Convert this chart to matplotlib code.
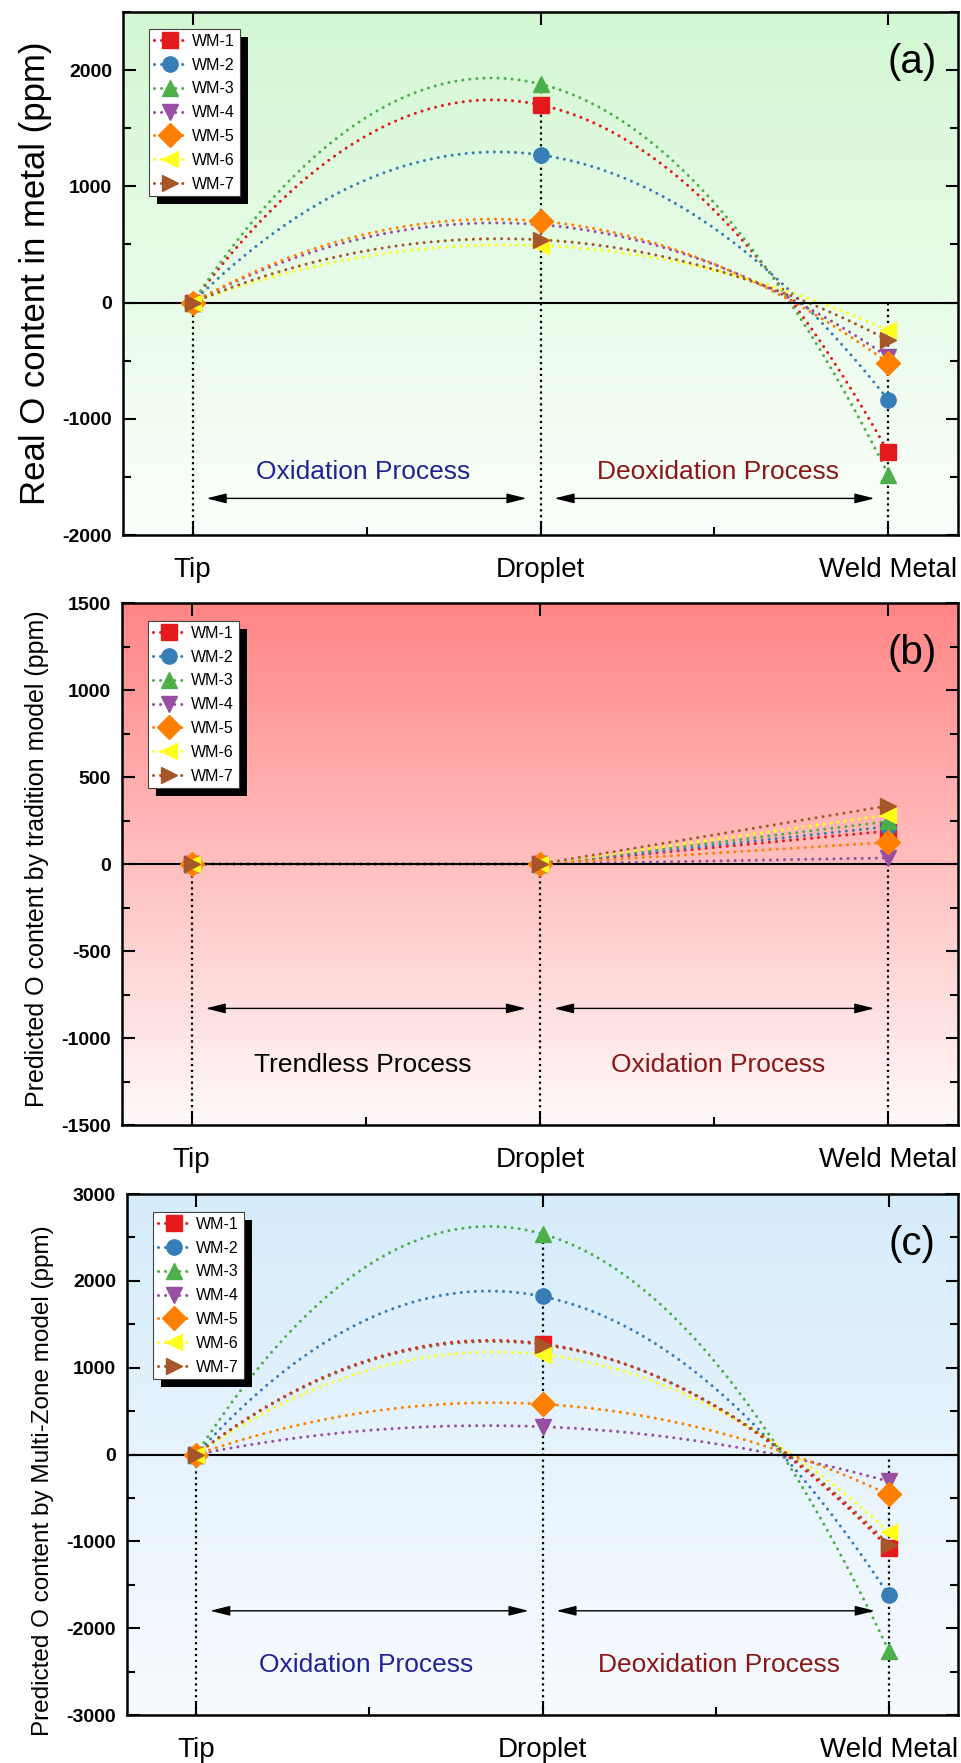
import numpy as np
import matplotlib.pyplot as plt
from matplotlib.colors import LinearSegmentedColormap
from matplotlib.lines import Line2D
from matplotlib.patches import Rectangle
from matplotlib.transforms import IdentityTransform

plt.rcParams['font.family'] = ['Liberation Sans', 'DejaVu Sans']
plt.rcParams['axes.unicode_minus'] = False      # gewoon streepje bij negatieve getallen

# categorieen en series
stages = ['Tip', 'Droplet', 'Weld Metal']
series = ['WM-1', 'WM-2', 'WM-3', 'WM-4', 'WM-5', 'WM-6', 'WM-7']
colors = ['#e41a1c', '#377eb8', '#4daf4a', '#984ea3', '#ff7f00', '#ffff1a', '#a65628']
markers = ['s', 'o', '^', 'v', 'D', '<', '>']

# (a) gemeten O gehalte (ppm)
real_tip = [0, 0, 0, 0, 0, 0, 0]
real_droplet = [1700, 1270, 1880, 670, 700, 490, 540]
real_weld = [-1290, -840, -1480, -470, -520, -240, -325]

# (b) traditioneel model
trad_tip = [0, 0, 0, 0, 0, 0, 0]
trad_droplet = [0, 0, 0, 0, 0, 0, 0]
trad_weld = [190, 215, 245, 35, 125, 282, 335]

# (c) multi-zone model
mz_tip = [0, 0, 0, 0, 0, 0, 0]
mz_droplet = [1275, 1820, 2540, 320, 580, 1150, 1265]
mz_weld = [-1080, -1620, -2260, -310, -460, -890, -1040]

xs = np.arange(len(stages))
blue_txt = '#1f2396'
red_txt = '#8b1616'
dots = (0, (0.01, 2.3))       # ronde stippen


def maak_panel(ax, tip, droplet, weld, curved, ylim, major, minor, c_top, c_bottom):
    # achtergrond met kleurverloop
    cmap = LinearSegmentedColormap.from_list('bg', [c_bottom, c_top])
    grad = np.linspace(0, 1, 256).reshape(-1, 1)
    ax.imshow(grad, extent=(0, 1, 0, 1), transform=ax.transAxes, origin='lower',
              aspect='auto', cmap=cmap, zorder=0)

    data = np.array([tip, droplet, weld])          # rij = stage, kolom = serie

    # droplines vanaf het hoogste punt naar beneden
    for i in range(len(stages)):
        ax.vlines(xs[i], ylim[0], max(0, data[i].max()), colors='k', linestyles=':',
                  lw=1.6, zorder=1.5)

    ax.axhline(0, color='k', lw=1.5, zorder=2.5)

    for j in range(len(series)):
        y = data[:, j]
        if curved:
            # kwadratische kromme door de drie punten
            p = np.polyfit(xs, y, 2)
            xf = np.linspace(0, 2, 200)
            ax.plot(xf, np.polyval(p, xf), ls=dots, color=colors[j], lw=2.2,
                    dash_capstyle='round', zorder=2)
        else:
            ax.plot(xs, y, ls=dots, color=colors[j], lw=2.2,
                    dash_capstyle='round', zorder=2)
        ms = 12 if markers[j] == 'D' else 11
        ax.plot(xs, y, ls='none', marker=markers[j], color=colors[j], ms=ms, zorder=3)

    ax.set_xlim(-0.2, 2.2)
    ax.set_ylim(*ylim)
    ax.set_xticks(xs)
    ax.set_xticklabels(stages, fontsize=20)
    ax.set_xticks([0.5, 1.5], minor=True)
    ax.set_yticks(np.arange(ylim[0], ylim[1] + 1, major))
    ax.set_yticks(np.arange(ylim[0], ylim[1] + 1, minor), minor=True)
    for lab in ax.get_yticklabels():
        lab.set_fontweight('bold')
        lab.set_fontsize(14)
    ax.tick_params(which='both', direction='in', top=True, right=True, width=1.5)
    ax.tick_params(which='major', length=9)
    ax.tick_params(which='minor', length=6, top=False)
    ax.tick_params(axis='x', pad=16)
    ax.tick_params(axis='y', pad=8)
    for s in ax.spines.values():
        s.set_linewidth(1.8)


def pijlen(ax, y):
    for a, b in [(0.04, 0.96), (1.04, 1.96)]:
        ax.annotate('', xy=(a, y), xytext=(b, y),
                    arrowprops=dict(arrowstyle='<|-|>,head_length=0.6,head_width=0.15',
                                    color='k', lw=1.0, mutation_scale=20,
                                    shrinkA=0, shrinkB=0), zorder=2.6)


def legenda(ax, bx, by):
    handles = [Line2D([], [], color=colors[j], ls=dots, lw=2.2,
                      dash_capstyle='round', marker=markers[j],
                      ms=12 if markers[j] == 'D' else 11) for j in range(len(series))]
    leg = ax.legend(handles, series, loc='upper left', bbox_to_anchor=(bx, by),
                    borderaxespad=0, fontsize=11.5, frameon=True, fancybox=False,
                    framealpha=1, edgecolor='#444444', labelspacing=0.55,
                    handlelength=2.0, handletextpad=0.4, borderpad=0.3)
    leg.get_frame().set_linewidth(0.8)
    leg.set_zorder(5)
    return leg


fig = plt.figure(figsize=(9.61, 17.63), dpi=100)
W, H = 961, 1763

# assen posities in pixels (links, boven, rechts, onder)
ax_a = fig.add_axes([123 / W, 1 - 535 / H, 835 / W, 523 / H])
ax_b = fig.add_axes([122 / W, 1 - 1125 / H, 836 / W, 522 / H])
ax_c = fig.add_axes([127 / W, 1 - 1715 / H, 831 / W, 521 / H])

# (a)
maak_panel(ax_a, real_tip, real_droplet, real_weld, True, (-2000, 2500), 1000, 500,
           '#d3f8d3', '#fbfffb')
ax_a.set_ylabel('Real O content in metal (ppm)', fontsize=25)
ax_a.yaxis.set_label_coords(-0.085, 0.5)
pijlen(ax_a, -1685)
ax_a.text(0.49, -1460, 'Oxidation Process', color=blue_txt, fontsize=19, ha='center', va='center')
ax_a.text(1.51, -1460, 'Deoxidation Process', color=red_txt, fontsize=19, ha='center', va='center')
ax_a.text(0.945, 0.904, '(a)', transform=ax_a.transAxes, fontsize=29, ha='center', va='center')
leg_a = legenda(ax_a, 26 / 835, 1 - 17 / 523)

# (b)
maak_panel(ax_b, trad_tip, trad_droplet, trad_weld, False, (-1500, 1500), 500, 250,
           '#ff8585', '#fffafa')
ax_b.set_ylabel('Predicted O content by tradition model (ppm)', fontsize=18)
ax_b.yaxis.set_label_coords(-0.087, 0.51)
pijlen(ax_b, -830)
ax_b.text(0.49, -1155, 'Trendless Process', color='k', fontsize=19, ha='center', va='center')
ax_b.text(1.51, -1155, 'Oxidation Process', color=red_txt, fontsize=19, ha='center', va='center')
ax_b.text(0.945, 0.904, '(b)', transform=ax_b.transAxes, fontsize=29, ha='center', va='center')
leg_b = legenda(ax_b, 26 / 836, 1 - 18 / 522)

# (c)
maak_panel(ax_c, mz_tip, mz_droplet, mz_weld, True, (-3000, 3000), 1000, 500,
           '#d5ecfb', '#f8fbff')
ax_c.set_ylabel('Predicted O content by Multi-Zone model (ppm)', fontsize=17.5)
ax_c.yaxis.set_label_coords(-0.088, 0.45)
pijlen(ax_c, -1800)
ax_c.text(0.49, -2420, 'Oxidation Process', color=blue_txt, fontsize=19, ha='center', va='center')
ax_c.text(1.51, -2420, 'Deoxidation Process', color=red_txt, fontsize=19, ha='center', va='center')
ax_c.text(0.945, 0.904, '(c)', transform=ax_c.transAxes, fontsize=29, ha='center', va='center')
leg_c = legenda(ax_c, 26 / 831, 1 - 18 / 521)

# zwarte schaduw achter de legenda's (8 pixels verschoven)
fig.canvas.draw()
for ax, leg in [(ax_a, leg_a), (ax_b, leg_b), (ax_c, leg_c)]:
    bb = leg.get_window_extent()
    r = Rectangle((bb.x0 + 8, bb.y0 - 8), bb.width, bb.height, transform=IdentityTransform(),
                  facecolor='k', edgecolor='none', zorder=4.9, clip_on=False)
    ax.add_artist(r)

fig.savefig('out.png', dpi=100)
